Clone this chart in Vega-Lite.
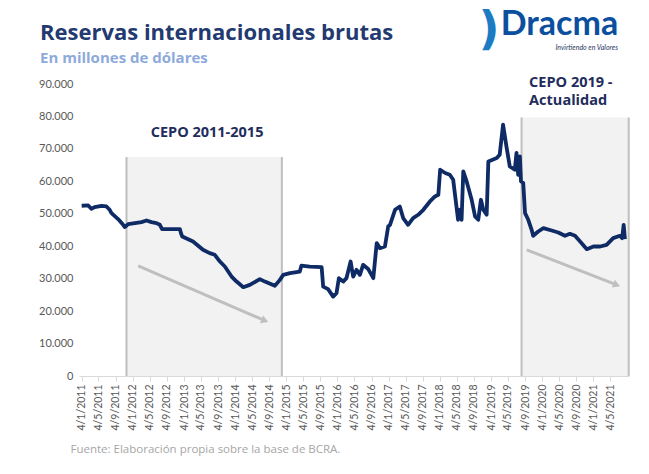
{
  "$schema": "https://vega.github.io/schema/vega-lite/v6.json",
  "width": 550,
  "height": 292,
  "autosize": {"type": "none"},
  "padding": {"left": 79, "top": 84, "right": 20, "bottom": 98},
  "background": "white",
  "title": {
    "text": "Reservas internacionales brutas",
    "subtitle": "En millones de dólares",
    "anchor": "start",
    "frame": "group",
    "dx": -39,
    "dy": 60,
    "offset": 0,
    "font": "Open Sans",
    "fontSize": 22,
    "fontWeight": "bold",
    "color": "#233a70",
    "subtitleFont": "Open Sans",
    "subtitleFontSize": 15,
    "subtitleFontWeight": "bold",
    "subtitleColor": "#8eaadb",
    "subtitlePadding": 6
  },
  "config": {
    "view": {"stroke": null},
    "axisX": {
      "labelExpr": "'4/' + (utcmonth(datum.value) + 1) + '/' + utcyear(datum.value)",
      "labelAngle": 270,
      "labelAlign": "right",
      "labelBaseline": "middle",
      "labelFont": "Lato",
      "labelFontSize": 10.5,
      "labelColor": "#595959",
      "labelPadding": 3,
      "labelOverlap": false,
      "labelFlush": false,
      "domainColor": "#d9d9d9",
      "tickColor": "#d9d9d9",
      "tickSize": 5,
      "grid": false,
      "titleX": -9,
      "titleY": 73,
      "titleAlign": "left",
      "titleAnchor": "start",
      "titleBaseline": "middle",
      "titleFont": "Open Sans",
      "titleFontSize": 11.5,
      "titleFontWeight": "normal",
      "titleColor": "#a6a6a6"
    },
    "axisY": {
      "domain": false,
      "ticks": false,
      "grid": false,
      "labelFont": "Lato",
      "labelFontSize": 11,
      "labelColor": "#595959",
      "labelPadding": 6
    }
  },
  "datasets": {
    "reservas": [
      {"fecha": "2011-01-01", "valor": 52470},
      {"fecha": "2011-02-17", "valor": 52560},
      {"fecha": "2011-03-11", "valor": 51540},
      {"fecha": "2011-04-04", "valor": 52060},
      {"fecha": "2011-05-22", "valor": 52470},
      {"fecha": "2011-06-27", "valor": 52260},
      {"fecha": "2011-07-20", "valor": 51230},
      {"fecha": "2011-08-02", "valor": 50200},
      {"fecha": "2011-09-18", "valor": 48360},
      {"fecha": "2011-10-24", "valor": 46600},
      {"fecha": "2011-11-05", "valor": 45900},
      {"fecha": "2011-11-29", "valor": 46820},
      {"fecha": "2012-01-16", "valor": 47130},
      {"fecha": "2012-03-03", "valor": 47440},
      {"fecha": "2012-04-08", "valor": 47930},
      {"fecha": "2012-05-13", "valor": 47440},
      {"fecha": "2012-06-18", "valor": 47130},
      {"fecha": "2012-07-12", "valor": 46600},
      {"fecha": "2012-07-28", "valor": 45280},
      {"fecha": "2012-10-28", "valor": 45280},
      {"fecha": "2012-12-02", "valor": 45280},
      {"fecha": "2012-12-10", "valor": 44000},
      {"fecha": "2012-12-19", "valor": 43000},
      {"fecha": "2013-03-06", "valor": 41450},
      {"fecha": "2013-05-16", "valor": 38890},
      {"fecha": "2013-07-03", "valor": 37870},
      {"fecha": "2013-08-08", "valor": 37350},
      {"fecha": "2013-09-14", "valor": 35280},
      {"fecha": "2013-10-19", "valor": 33740},
      {"fecha": "2013-12-06", "valor": 30650},
      {"fecha": "2014-01-11", "valor": 29100},
      {"fecha": "2014-02-28", "valor": 27380},
      {"fecha": "2014-04-15", "valor": 28090},
      {"fecha": "2014-06-26", "valor": 29850},
      {"fecha": "2014-08-01", "valor": 29100},
      {"fecha": "2014-10-11", "valor": 27780},
      {"fecha": "2014-11-16", "valor": 29630},
      {"fecha": "2014-12-10", "valor": 31170},
      {"fecha": "2015-01-27", "valor": 31700},
      {"fecha": "2015-04-07", "valor": 32190},
      {"fecha": "2015-04-19", "valor": 34040},
      {"fecha": "2015-06-17", "valor": 33740},
      {"fecha": "2015-09-10", "valor": 33540},
      {"fecha": "2015-09-21", "valor": 27560},
      {"fecha": "2015-10-26", "valor": 26760},
      {"fecha": "2015-12-01", "valor": 24480},
      {"fecha": "2015-12-25", "valor": 25520},
      {"fecha": "2016-01-11", "valor": 30150},
      {"fecha": "2016-02-11", "valor": 29100},
      {"fecha": "2016-03-05", "valor": 30150},
      {"fecha": "2016-04-04", "valor": 35280},
      {"fecha": "2016-04-22", "valor": 30650},
      {"fecha": "2016-05-16", "valor": 32720},
      {"fecha": "2016-06-09", "valor": 31170},
      {"fecha": "2016-07-02", "valor": 34260},
      {"fecha": "2016-08-07", "valor": 33000},
      {"fecha": "2016-09-13", "valor": 30150},
      {"fecha": "2016-10-07", "valor": 40960},
      {"fecha": "2016-10-30", "valor": 39410},
      {"fecha": "2016-12-05", "valor": 39910},
      {"fecha": "2016-12-28", "valor": 46080},
      {"fecha": "2017-01-10", "valor": 46600},
      {"fecha": "2017-02-15", "valor": 51230},
      {"fecha": "2017-03-21", "valor": 52250},
      {"fecha": "2017-04-14", "valor": 48670},
      {"fecha": "2017-05-19", "valor": 46600},
      {"fecha": "2017-06-24", "valor": 48670},
      {"fecha": "2017-07-30", "valor": 49690},
      {"fecha": "2017-09-05", "valor": 51230},
      {"fecha": "2017-10-22", "valor": 53800},
      {"fecha": "2017-11-27", "valor": 55340},
      {"fecha": "2017-12-21", "valor": 55860},
      {"fecha": "2018-01-03", "valor": 63580},
      {"fecha": "2018-02-08", "valor": 62560},
      {"fecha": "2018-03-13", "valor": 62040},
      {"fecha": "2018-04-06", "valor": 60490},
      {"fecha": "2018-05-11", "valor": 48150},
      {"fecha": "2018-05-23", "valor": 51230},
      {"fecha": "2018-06-05", "valor": 48150},
      {"fecha": "2018-06-17", "valor": 63060},
      {"fecha": "2018-07-11", "valor": 59970},
      {"fecha": "2018-08-16", "valor": 54320},
      {"fecha": "2018-09-09", "valor": 49170},
      {"fecha": "2018-10-02", "valor": 48150},
      {"fecha": "2018-10-21", "valor": 54320},
      {"fecha": "2018-11-07", "valor": 51230},
      {"fecha": "2018-12-01", "valor": 49690},
      {"fecha": "2018-12-13", "valor": 66140},
      {"fecha": "2019-02-11", "valor": 67180},
      {"fecha": "2019-03-04", "valor": 68210},
      {"fecha": "2019-03-28", "valor": 77470},
      {"fecha": "2019-04-21", "valor": 70770},
      {"fecha": "2019-05-15", "valor": 64600},
      {"fecha": "2019-06-20", "valor": 63580},
      {"fecha": "2019-07-02", "valor": 68730},
      {"fecha": "2019-07-14", "valor": 62000},
      {"fecha": "2019-07-26", "valor": 67690},
      {"fecha": "2019-08-03", "valor": 60000},
      {"fecha": "2019-08-19", "valor": 59470},
      {"fecha": "2019-09-01", "valor": 50200},
      {"fecha": "2019-09-24", "valor": 48150},
      {"fecha": "2019-10-18", "valor": 45060},
      {"fecha": "2019-10-29", "valor": 43210},
      {"fecha": "2019-12-04", "valor": 44540},
      {"fecha": "2020-01-10", "valor": 45580},
      {"fecha": "2020-03-09", "valor": 44850},
      {"fecha": "2020-04-25", "valor": 44230},
      {"fecha": "2020-06-12", "valor": 43210},
      {"fecha": "2020-07-17", "valor": 43830},
      {"fecha": "2020-08-23", "valor": 43210},
      {"fecha": "2020-09-28", "valor": 41450},
      {"fecha": "2020-11-15", "valor": 39100},
      {"fecha": "2021-01-01", "valor": 39910},
      {"fecha": "2021-02-18", "valor": 39910},
      {"fecha": "2021-04-05", "valor": 40430},
      {"fecha": "2021-05-22", "valor": 42500},
      {"fecha": "2021-07-09", "valor": 43210},
      {"fecha": "2021-07-25", "valor": 42500},
      {"fecha": "2021-08-05", "valor": 46600},
      {"fecha": "2021-08-14", "valor": 42200}
    ],
    "periodos": [
      {"periodo": "CEPO 2011-2015", "inicio": "2011-11-17", "fin": "2014-11-30", "tope": 67500},
      {"periodo": "CEPO 2019 - Actualidad", "inicio": "2019-08-07", "fin": "2021-09-10", "tope": 79700}
    ],
    "tendencias": [
      {"desde": "2012-02-09", "valorDesde": 33950, "hasta": "2014-08-01", "valorHasta": 17070},
      {"desde": "2019-09-13", "valorDesde": 38890, "hasta": "2021-06-16", "valorHasta": 28090}
    ],
    "anotacion": [{}]
  },
  "encoding": {
    "x": {
      "type": "temporal",
      "scale": {"type": "utc", "domain": [{"year": 2010, "month": 12, "date": 13, "utc": true}, {"year": 2021, "month": 9, "date": 12, "utc": true}]},
      "axis": {
        "title": "Fuente: Elaboración propia sobre la base de BCRA.",
        "values": [
          {"year": 2011, "month": 1, "date": 1, "utc": true}, {"year": 2011, "month": 5, "date": 1, "utc": true}, {"year": 2011, "month": 9, "date": 1, "utc": true},
          {"year": 2012, "month": 1, "date": 1, "utc": true}, {"year": 2012, "month": 5, "date": 1, "utc": true}, {"year": 2012, "month": 9, "date": 1, "utc": true},
          {"year": 2013, "month": 1, "date": 1, "utc": true}, {"year": 2013, "month": 5, "date": 1, "utc": true}, {"year": 2013, "month": 9, "date": 1, "utc": true},
          {"year": 2014, "month": 1, "date": 1, "utc": true}, {"year": 2014, "month": 5, "date": 1, "utc": true}, {"year": 2014, "month": 9, "date": 1, "utc": true},
          {"year": 2015, "month": 1, "date": 1, "utc": true}, {"year": 2015, "month": 5, "date": 1, "utc": true}, {"year": 2015, "month": 9, "date": 1, "utc": true},
          {"year": 2016, "month": 1, "date": 1, "utc": true}, {"year": 2016, "month": 5, "date": 1, "utc": true}, {"year": 2016, "month": 9, "date": 1, "utc": true},
          {"year": 2017, "month": 1, "date": 1, "utc": true}, {"year": 2017, "month": 5, "date": 1, "utc": true}, {"year": 2017, "month": 9, "date": 1, "utc": true},
          {"year": 2018, "month": 1, "date": 1, "utc": true}, {"year": 2018, "month": 5, "date": 1, "utc": true}, {"year": 2018, "month": 9, "date": 1, "utc": true},
          {"year": 2019, "month": 1, "date": 1, "utc": true}, {"year": 2019, "month": 5, "date": 1, "utc": true}, {"year": 2019, "month": 9, "date": 1, "utc": true},
          {"year": 2020, "month": 1, "date": 1, "utc": true}, {"year": 2020, "month": 5, "date": 1, "utc": true}, {"year": 2020, "month": 9, "date": 1, "utc": true},
          {"year": 2021, "month": 1, "date": 1, "utc": true}, {"year": 2021, "month": 5, "date": 1, "utc": true}
        ]
      }
    },
    "y": {
      "type": "quantitative",
      "scale": {"domain": [0, 90000], "nice": false, "zero": true},
      "axis": {
        "title": null,
        "values": [0, 10000, 20000, 30000, 40000, 50000, 60000, 70000, 80000, 90000],
        "labelExpr": "replace(format(datum.value, ','), ',', '.')"
      }
    }
  },
  "layer": [
    {
      "data": {"name": "periodos"},
      "mark": {"type": "rect", "color": "#f2f2f2"},
      "encoding": {
        "x": {"field": "inicio"},
        "x2": {"field": "fin"},
        "y": {"field": "tope"},
        "y2": {"datum": 0}
      }
    },
    {
      "data": {"name": "periodos"},
      "mark": {"type": "rule", "color": "#bfbfbf", "strokeWidth": 2},
      "encoding": {
        "x": {"field": "inicio"},
        "y": {"field": "tope"},
        "y2": {"datum": 0}
      }
    },
    {
      "data": {"name": "periodos"},
      "mark": {"type": "rule", "color": "#bfbfbf", "strokeWidth": 2},
      "encoding": {
        "x": {"field": "fin"},
        "y": {"field": "tope"},
        "y2": {"datum": 0}
      }
    },
    {
      "data": {"name": "tendencias"},
      "mark": {"type": "rule", "color": "#bfbfbf", "strokeWidth": 3},
      "encoding": {
        "x": {"field": "desde"},
        "y": {"field": "valorDesde"},
        "x2": {"field": "hasta"},
        "y2": {"field": "valorHasta"}
      }
    },
    {
      "data": {"name": "tendencias"},
      "mark": {"type": "point", "shape": "triangle-right", "filled": true, "color": "#bfbfbf", "opacity": 1, "size": 70, "angle": 22},
      "encoding": {
        "x": {"field": "hasta"},
        "y": {"field": "valorHasta"}
      }
    },
    {
      "data": {"name": "reservas"},
      "mark": {"type": "line", "color": "#0f2b66", "strokeWidth": 3.8, "strokeJoin": "round"},
      "encoding": {
        "x": {"field": "fecha"},
        "y": {"field": "valor"}
      }
    },
    {
      "data": {"name": "anotacion"},
      "mark": {"type": "text", "text": "CEPO 2011-2015", "font": "Open Sans", "fontSize": 14.5, "fontWeight": "bold", "color": "#1f2d5c", "align": "center", "baseline": "middle"},
      "encoding": {
        "x": {"datum": {"year": 2013, "month": 6, "date": 14, "utc": true}},
        "y": {"datum": 74800}
      }
    },
    {
      "data": {"name": "anotacion"},
      "mark": {"type": "text", "text": ["CEPO 2019 -", "Actualidad"], "font": "Open Sans", "fontSize": 14.5, "fontWeight": "bold", "color": "#1f2d5c", "align": "left", "baseline": "top", "lineHeight": 18},
      "encoding": {
        "x": {"datum": {"year": 2019, "month": 9, "date": 30, "utc": true}},
        "y": {"datum": 92600}
      }
    },
    {
      "data": {"name": "anotacion"},
      "mark": {"type": "text", "text": ")", "font": "DejaVu Sans", "fontSize": 46, "fontWeight": "bold", "color": "#1b7cc4", "align": "center", "baseline": "middle"},
      "encoding": {
        "x": {"datum": {"year": 2018, "month": 12, "date": 18, "utc": true}},
        "y": {"datum": 106790}
      }
    },
    {
      "data": {"name": "anotacion"},
      "mark": {"type": "text", "text": "Dracma", "font": "Lato", "fontSize": 34, "fontWeight": "bold", "color": "#0b4f9f", "align": "left", "baseline": "alphabetic"},
      "encoding": {
        "x": {"datum": {"year": 2019, "month": 3, "date": 12, "utc": true}},
        "y": {"datum": 105000}
      }
    },
    {
      "data": {"name": "anotacion"},
      "mark": {"type": "text", "text": "Invirtiendo en Valores", "font": "Lato", "fontSize": 7, "fontStyle": "italic", "color": "#1f3864", "align": "right", "baseline": "alphabetic"},
      "encoding": {
        "x": {"datum": {"year": 2021, "month": 6, "date": 25, "utc": true}},
        "y": {"datum": 100600}
      }
    }
  ]
}
